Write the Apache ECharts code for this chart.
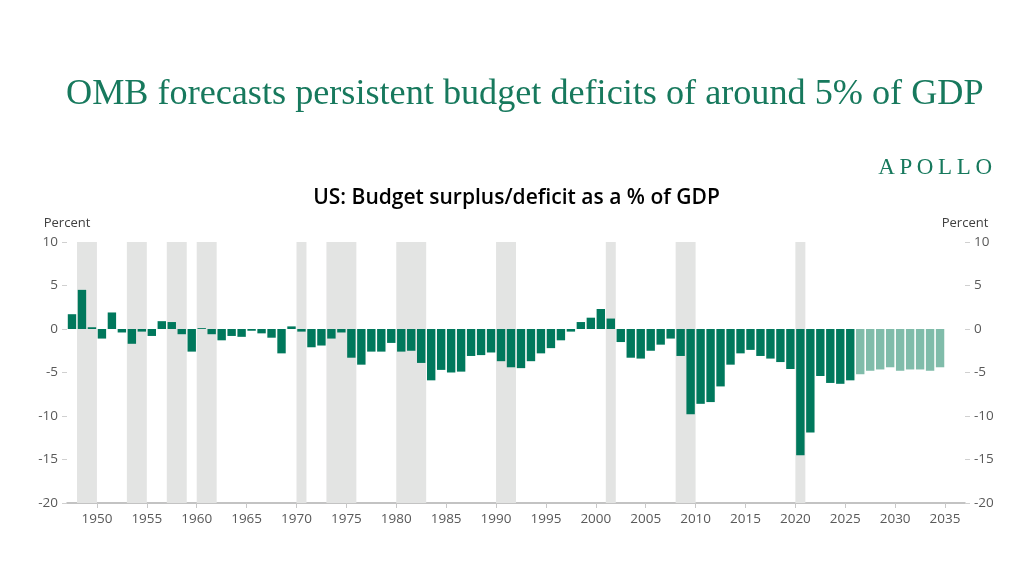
<!DOCTYPE html>
<html>
<head>
<meta charset="utf-8">
<script src="https://cdn.jsdelivr.net/npm/echarts@6/dist/echarts.min.js"></script>
<style>
  html, body { margin: 0; padding: 0; background: #fff; }
  #chart { width: 1033px; height: 581px; }
</style>
</head>
<body>
<div id="chart"></div>
<script>
// fiscal years, each bar fills the year from Jan to Dec
var actualYears = [];
for (var y = 1947; y <= 2025; y++) actualYears.push(y);
var actualValues = [
  1.7, 4.5, 0.2, -1.1, 1.9, -0.4, -1.7, -0.3, -0.8, 0.9,
  0.8, -0.6, -2.6, 0.1, -0.6, -1.3, -0.8, -0.9, -0.2, -0.5,
  -1.0, -2.8, 0.3, -0.3, -2.1, -1.9, -1.1, -0.4, -3.3, -4.1,
  -2.6, -2.6, -1.6, -2.6, -2.5, -3.9, -5.9, -4.7, -5.0, -4.9,
  -3.1, -3.0, -2.7, -3.7, -4.4, -4.5, -3.7, -2.8, -2.2, -1.3,
  -0.3, 0.8, 1.3, 2.3, 1.2, -1.5, -3.3, -3.4, -2.5, -1.8,
  -1.1, -3.1, -9.8, -8.6, -8.4, -6.6, -4.1, -2.8, -2.4, -3.1,
  -3.4, -3.8, -4.6, -14.5, -11.9, -5.4, -6.2, -6.3, -5.9
];
// OMB forecast
var forecastYears = [2026, 2027, 2028, 2029, 2030, 2031, 2032, 2033, 2034];
var forecastValues = [-5.2, -4.8, -4.65, -4.4, -4.8, -4.65, -4.65, -4.8, -4.4];

// recessions (shaded)
var recessionStart = [1948, 1953, 1957, 1960, 1970, 1973, 1980, 1990, 2001, 2008, 2020];
var recessionEnd   = [1950, 1955, 1959, 1962, 1971, 1976, 1983, 1992, 2002, 2010, 2021];

var yearTicks = [1950, 1955, 1960, 1965, 1970, 1975, 1980, 1985, 1990, 1995,
                 2000, 2005, 2010, 2015, 2020, 2025, 2030, 2035];

var green = '#00785c';
var lightGreen = '#80bcaa';
var grey = '#595959';
var font = 'Open Sans';

function toPoints(years, values) {
  return years.map(function (yr, i) { return [yr + 0.5, values[i]]; });
}

var recessionAreas = recessionStart.map(function (s, i) {
  return [{ xAxis: s }, { xAxis: recessionEnd[i] }];
});

var myChart = echarts.init(document.getElementById('chart'));

var yAxisBase = {
  type: 'value',
  min: -20,
  max: 10,
  interval: 5,
  name: 'Percent',
  nameLocation: 'end',
  nameGap: 12,
  nameTextStyle: { color: '#404040', fontFamily: font, fontSize: 13 },
  axisLine: { show: false },
  axisTick: { show: true, length: 5, lineStyle: { color: '#d0d0d0' } },
  axisLabel: { color: grey, fontFamily: font, fontSize: 13.5, margin: 9 },
  splitLine: { show: false }
};

var option = {
  backgroundColor: '#fff',
  animation: false,
  title: [
    {
      text: 'OMB forecasts persistent budget deficits of around 5% of GDP',
      left: 61,
      top: 71,
      textStyle: { color: '#17795d', fontFamily: 'Liberation Serif', fontWeight: 'normal', fontSize: 36.2 }
    },
    {
      text: 'A\u2009P\u2009O\u2009L\u2009L\u2009O',
      right: 36,
      top: 151,
      textStyle: { color: '#17795d', fontFamily: 'Liberation Serif', fontWeight: 'normal', fontSize: 23 }
    },
    {
      text: 'US: Budget surplus/deficit as a % of GDP',
      left: 'center',
      top: 183,
      textStyle: { color: '#000', fontFamily: font, fontWeight: 600, fontSize: 21 }
    }
  ],
  grid: { left: 67, right: 68, top: 242, bottom: 78 },
  xAxis: {
    type: 'value',
    min: 1947,
    max: 2037,
    axisLine: { onZero: false, lineStyle: { color: '#b0b0b0', width: 1.5 } },
    axisTick: { show: true, length: 5, customValues: yearTicks, lineStyle: { color: '#c8c8c8' } },
    axisLabel: {
      customValues: yearTicks,
      formatter: function (v) { return String(v); },
      color: grey, fontFamily: font, fontSize: 13.5, margin: 9
    },
    splitLine: { show: false }
  },
  yAxis: [
    Object.assign({}, yAxisBase, { position: 'left' }),
    Object.assign({}, yAxisBase, { position: 'right' })
  ],
  series: [
    {
      name: 'Recession',
      type: 'line',
      data: [],
      z: 1,
      markArea: {
        silent: true,
        itemStyle: { color: '#e3e4e3' },
        data: recessionAreas
      }
    },
    {
      name: 'Actual',
      type: 'bar',
      z: 3,
      barWidth: 8.4,
      barGap: '-100%',
      itemStyle: { color: green },
      data: toPoints(actualYears, actualValues)
    },
    {
      name: 'Forecast',
      type: 'bar',
      z: 3,
      barWidth: 8.4,
      barGap: '-100%',
      itemStyle: { color: lightGreen },
      data: toPoints(forecastYears, forecastValues)
    }
  ]
};

myChart.setOption(option);
</script>
</body>
</html>
